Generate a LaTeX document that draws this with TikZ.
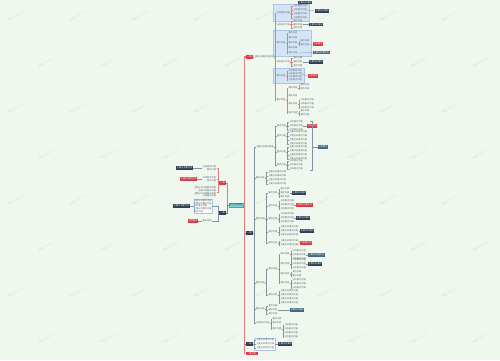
\documentclass[tikz,border=0pt]{standalone}
\usepackage{fontspec}
\newfontfamily\cjk{Noto Sans CJK SC}
\definecolor{bg}{HTML}{EFF7EE}
\definecolor{txt}{HTML}{5E666E}
\definecolor{lnk}{HTML}{8393A3}
\definecolor{redl}{HTML}{E07C7C}
\definecolor{redc}{HTML}{D63B47}
\definecolor{navy}{HTML}{2C3E52}
\definecolor{tealc}{HTML}{3F6A80}
\definecolor{cenf}{HTML}{72D4D6}
\definecolor{cend}{HTML}{2FB2B6}
\definecolor{bluef}{HTML}{D3E4F6}
\definecolor{blued}{HTML}{A9C6E6}
\newcommand\tf{\fontsize{2.2}{2.7}\selectfont\cjk}
\newcommand\ta{要点内容}
\newcommand\tb{分析要点内容}
\newcommand\tc{主要分析要点内容}
\newcommand\td{主要分析内容要点说明}
\newcommand\kids[5]{\foreach \yy [count=\ii] in {#3}{\node[leaf] (#1-\ii) at (#2,\yy) {#4};\draw[#5] (#1.east) -- ++(1,0) |- (#1-\ii.west);}}
\begin{document}
\begin{tikzpicture}[x=1pt,y=-1pt,
 leaf/.style={font=\tf,text=txt,inner sep=0.3pt,anchor=west},
 leafe/.style={leaf,anchor=east},
 lk/.style={draw=lnk,line width=0.3pt},
 rl/.style={draw=redl,line width=0.4pt},
 mainred/.style={draw=redl,line width=1.3pt},
 cD/.style={fill=navy,text=white,font=\tf,inner sep=0.5pt,anchor=west},
 cR/.style={cD,fill=redc},
 cT/.style={cD,fill=tealc},
 rbox/.style={fill=redc,text=white,font=\tf,inner sep=0.5pt,minimum width=7pt},
 dbox/.style={rbox,fill=navy},
 bluebox/.style={fill=bluef,draw=blued,line width=0.3pt},
 wbox/.style={draw=blued,fill=white,fill opacity=0.6,text opacity=1,line width=0.3pt}
]
\fill[bg] (0,0) rectangle (500,360);
\useasboundingbox (0,0) rectangle (500,360);
% watermark
\foreach \r in {0,...,7}{\foreach \c in {0,...,7}{%
 \pgfmathsetmacro\xx{\c*62+mod(\r,2)*31+16}\pgfmathsetmacro\yv{\r*46+16}%
 \node[rotate=30,text=black,opacity=0.09,font=\fontsize{3}{3}\selectfont\cjk] (wm-\r-\c) at (\xx,\yv) {树图 shutu.cn};}}
% blue group boxes
\draw[bluebox] (273,4) rectangle (309,21);
\draw[bluebox] (273,30) rectangle (311,56);
\draw[bluebox] (273,68) rectangle (304,83);
% main nodes
\node[draw=cend,fill=cenf,font=\tf,text=navy,inner sep=0.6pt,minimum height=4pt] (cen) at (236,205) {中心主题内容};
\node[rbox] (r1) at (249.5,57) {一级};
\node[rbox,minimum width=12pt] (r2) at (251.5,353.5) {一级主题};
\node[dbox] (d1) at (249.5,233) {一级};
\node[dbox] (d2) at (249.5,344) {一级};
\node[rbox] (lr) at (222.5,183) {一级};
\node[dbox] (ld) at (222.5,213) {一级};
\draw[draw=navy!70,line width=0.5pt] (cen.east) -- ++(1,0) |- (d1.west);
\draw[draw=navy!70,line width=0.5pt] (cen.east) -- ++(1,0) |- (d2.west);
\draw[mainred] (cen.east) -- ++(1,0) |- (r1.west);
\draw[mainred] (cen.east) -- ++(1,0) |- (r2.west);
\draw[redl,line width=0.7pt] (cen.west) -- ++(-1.2,0) |- (lr.east);
\draw[draw=navy!70,line width=0.5pt] (cen.west) -- ++(-1.2,0) |- (ld.east);
% ---- top red subtree
\node[leaf] (t1) at (253.5,57) {主要分析要点内容说};
\draw[rl] (r1.east) -- (t1.west);
\foreach \n/\y/\t in {c1/13/\tb, c2/24.5/\tb, c3/43/\ta, c4/62/\tb, c5/76/\ta, c6/100/\ta}{
 \node[leaf] (\n) at (276,\y) {\t};
 \draw[rl] (t1.east) -- ++(1,0) |- (\n.west);}
\kids{c1}{293}{6,10,14,18}{\tb}{rl}
\node[cD] (c1a) at (298,2.6) {主要分析要点};
\node[cD] (c1b) at (315,11) {主要分析要点};
\draw[lk] (c1-1.north) -- (c1a.south -| c1-1.north);
\draw[lk] (c1-2.east) -- (c1b.west);
\kids{c2}{293}{21,24.5,28}{\ta}{rl}
\node[cD] (c2c) at (309,24.5) {主要分析要点};
\draw[lk] (c2-2.east) -- (c2c.west);
\kids{c3}{288}{33,38,43,48,53}{\ta}{rl}
\kids{c3-3}{300}{41,45}{\ta}{rl}
\node[cR] (c3r) at (313,44) {分析要点};
\node[cT] (c3t) at (313,52.5) {主要分析要点内};
\draw[lk] (c3-3-2.east) -- (c3r.west);
\draw[lk] (c3-5.east) -- (c3t.west);
\kids{c4}{293}{58,62,66}{\ta}{rl}
\node[cD] (c4c) at (309,62) {主要分析要点};
\draw[lk] (c4-2.east) -- (c4c.west);
\kids{c5}{288}{71,74,77,80}{\tb}{rl}
\node[cR] (c5r) at (308,76) {分析要点};
\draw[lk] (c5-2.east) -- (c5r.west);
\kids{c6}{288}{88,96,104,113}{\ta}{rl}
\kids{c6-1}{300}{85,89}{\ta}{rl}
\kids{c6-3}{300}{100,104,108}{\tb}{rl}
\kids{c6-4}{300}{111,115}{\ta}{rl}
% ---- dark branch d1
\foreach \n/\y/\t in {A/147/\tc, B/178/\ta, C/219/\ta, E/283/\ta, G/309/\ta, H/323/\tb}{
 \node[leaf] (\n) at (255.5,\y) {\t};
 \draw[lk] (d1.east) -- ++(1,0) |- (\n.west);}
\kids{A}{276.5}{126,136,152,165}{\ta}{lk}
\kids{A-1}{289}{122,126,130}{\tb}{lk}
\kids{A-2}{289}{132,136,140,144}{\tc}{lk}
\kids{A-3}{289}{147,151,155,159}{\tc}{lk}
\kids{A-4}{289}{161,165,169}{\tb}{lk}
\node[cR] (Ar) at (307,126) {分析要点};
\draw[lk] (A-1-2.east) -- (Ar.west);
\draw[lk] (310,121) -- (312,121) -- (312,170) -- (310,170);
\node[cT] (At) at (318,147) {分析要点};
\draw[lk] (312,147) -- (At.west);
\kids{B}{268}{172,176,180,184}{\tc}{lk}
\kids{C}{268}{193,206,219,232,243}{\ta}{lk}
\kids{C-1}{280}{189,193,197}{\ta}{lk}
\kids{C-2}{280}{201,205,209}{\tb}{lk}
\kids{C-3}{280}{214,218,222}{\tb}{lk}
\kids{C-4}{280}{227,231,235}{\tc}{lk}
\kids{C-5}{280}{241,245}{\tc}{lk}
\node[cD] (C1c) at (292,193) {主要分析要点};
\node[cR] (C2c) at (296,205) {主要分析要点内};
\node[cD] (C3c) at (296,218) {主要分析要点};
\node[cD] (C4c) at (300,231) {主要分析要点};
\node[cR] (C5c) at (300,243) {分析要点内};
\draw[lk] (C-1-2.east) -- (C1c.west);
\draw[lk] (C-2-2.east) -- (C2c.west);
\draw[lk] (C-3-2.east) -- (C3c.west);
\draw[lk] (C-4-2.east) -- (C4c.west);
\draw[lk] (C-5-1.east) -- (C5c.west);
\kids{E}{268}{269,295}{\ta}{lk}
\kids{E-1}{280}{254,264,274,283}{\ta}{lk}
\kids{E-1-1}{292}{251,255,259}{\tb}{lk}
\kids{E-1-2}{292}{260,264,268}{\tb}{lk}
\kids{E-1-3}{292}{272,276}{\ta}{lk}
\kids{E-1-4}{292}{280,284,288}{\tb}{lk}
\node[cT] (E1c) at (308,255) {主要分析要点内};
\node[cD] (E2c) at (308,264) {主要分析要点};
\draw[lk] (E-1-1-2.east) -- (E1c.west);
\draw[lk] (E-1-2-2.east) -- (E2c.west);
\kids{E-2}{280}{291,295,299,303}{\tc}{lk}
\kids{G}{268}{306,310,314}{\ta}{lk}
\node[cT] (Gc) at (290,310) {主要分析要点};
\draw[lk] (G-2.east) -- (Gc.west);
\kids{H}{272}{319,323,329}{\ta}{lk}
\kids{H-3}{284}{325,329,333,337}{\tb}{lk}
% ---- d2
\draw[wbox] (254.5,338) rectangle (275,350);
\kids{d2}{256}{340,344,348}{\tc}{lk}
\node[cD] (d2c) at (278,344) {主要分析要点};
\draw[lk] (d2-2.east) -- (d2c.west);
% ---- left red
\foreach \n/\y/\t in {l1/168/{\tb\\\ta}, l2/179/{\tb\\\ta}, l3/192/{\td\\\tc\\\td\\\tb}}{
 \node[leafe,align=right] (\n) at (216.5,\y) {\t};
 \draw[rl] (lr.west) -- ++(-1,0) |- (\n.east);}
\node[cD,anchor=east] (l1c) at (193,168) {主要分析要点内};
\node[cR,anchor=east] (l2c) at (197,179) {主要分析要点内};
\draw[lk] (l1.west) -- (l1c.east);
\draw[lk] (l2.west) -- (l2c.east);
% ---- left dark
\node[leafe,align=left,wbox] (l4) at (212,206) {\tc\\\tc\\\tb\\\tc\\\ta};
\node[leafe] (l5) at (212,221) {\ta};
\draw[lk] (ld.west) -- ++(-1,0) |- (l4.east);
\draw[lk] (ld.west) -- ++(-1,0) |- (l5.east);
\node[cD,anchor=east] (l4c) at (190,206) {主要分析要点内};
\node[cR,anchor=east] (l5c) at (198,221) {分析要点};
\draw[lk] (l4.west) -- (l4c.east);
\draw[lk] (l5.west) -- (l5c.east);
\end{tikzpicture}
\end{document}
